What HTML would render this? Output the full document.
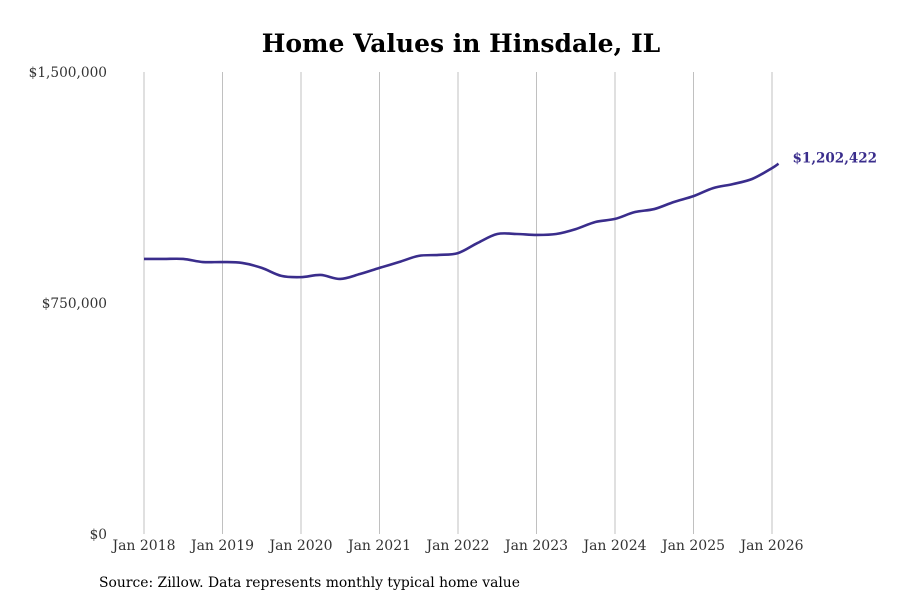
<!DOCTYPE html>
<html><head><meta charset="utf-8"><style>
body{margin:0;background:#fff;font-family:"DejaVu Serif",serif}
svg text{font-family:"DejaVu Serif",serif}
</style></head><body>
<svg id="c" width="900" height="600">
<text x="461" y="52" text-anchor="middle" font-size="25" font-weight="bold" fill="#000">Home Values in Hinsdale, IL</text>
<g id="grid"></g><g id="yt"></g><g id="xt"></g>
<path id="line" fill="none" stroke="#3a2d8c" stroke-width="2.6"/>
<text id="lbl" font-size="13.5" font-weight="bold" fill="#3a2d8c"></text>
<text x="99" y="587" font-size="13.9" fill="#000">Source: Zillow. Data represents monthly typical home value</text>
</svg>
<script>
const months=[0,3,6,9,12,15,18,21,24,27,30,33,36,39,42,45,48,51,54,57,60,63,66,69,72,75,78,81,84,87,90,93,96,97];
const values=[893000,893000,893000,883000,883000,880000,864000,838000,834000,841000,828000,844000,864000,883000,903000,906000,912000,945000,974000,974000,971000,974000,990000,1013000,1023000,1045000,1055000,1078000,1097000,1123000,1136000,1153000,1188000,1202422];
const xTickLabels=["Jan 2018","Jan 2019","Jan 2020","Jan 2021","Jan 2022","Jan 2023","Jan 2024","Jan 2025","Jan 2026"];
const yTicks=[0,750000,1500000];
const yTickLabels=["$0","$750,000","$1,500,000"];
const X=m=>144+m*(772-144)/96, Y=v=>534-v*(462/1500000);
const ns="http://www.w3.org/2000/svg";
const g=document.getElementById('grid'),yt=document.getElementById('yt'),xt=document.getElementById('xt');
xTickLabels.forEach((t,i)=>{
 const x=X(i*12);
 const l=document.createElementNS(ns,'line');
 l.setAttribute('x1',x);l.setAttribute('x2',x);l.setAttribute('y1',72);l.setAttribute('y2',534);
 l.setAttribute('stroke','#c0c0c0');l.setAttribute('stroke-width','1');
 
 
 g.appendChild(l);
 const tx=document.createElementNS(ns,'text');
 tx.setAttribute('x',x);tx.setAttribute('y',550);tx.setAttribute('text-anchor','middle');
 tx.setAttribute('font-size','14');tx.setAttribute('fill','#333');tx.textContent=t;
 
 
 xt.appendChild(tx);
});
yTicks.forEach((v,i)=>{
 const tx=document.createElementNS(ns,'text');
 tx.setAttribute('x',107);tx.setAttribute('y',Y(v)+5);tx.setAttribute('text-anchor','end');
 tx.setAttribute('font-size','13.7');tx.setAttribute('fill','#333');tx.textContent=yTickLabels[i];
 
 
 yt.appendChild(tx);
});
const P=months.map((m,i)=>[X(m),Y(values[i])]);
let d='M'+P[0][0]+','+P[0][1];
for(let i=0;i<P.length-1;i++){
 const p0=P[Math.max(0,i-1)],p1=P[i],p2=P[i+1],p3=P[Math.min(P.length-1,i+2)];
 const c1=[p1[0]+(p2[0]-p0[0])/6,p1[1]+(p2[1]-p0[1])/6],c2=[p2[0]-(p3[0]-p1[0])/6,p2[1]-(p3[1]-p1[1])/6];
 d+=` C${c1[0]},${c1[1]} ${c2[0]},${c2[1]} ${p2[0]},${p2[1]}`;
}
document.getElementById('line').setAttribute('d',d);
const last=values[values.length-1],lb=document.getElementById('lbl');
lb.setAttribute('x',X(months[months.length-1])+14);lb.setAttribute('y',Y(last)-1);
lb.textContent='$'+last.toLocaleString('en-US');
</script>
</body></html>
